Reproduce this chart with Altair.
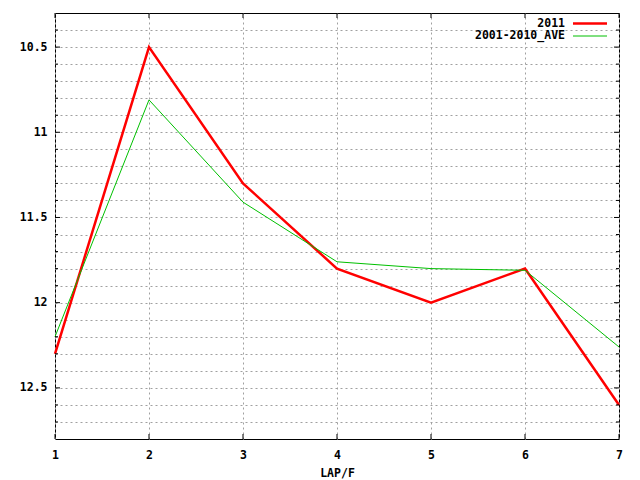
import altair as alt
import pandas as pd

laps = [1, 2, 3, 4, 5, 6, 7]
y2011 = [12.3, 10.5, 11.3, 11.8, 12.0, 11.8, 12.6]
yave = [12.2, 10.81, 11.41, 11.76, 11.80, 11.81, 12.26]
series_names = ["2011", "2001-2010_AVE"]
colors = ["#ff0000", "#00c000"]

W, H = 564, 426
FONT = "DejaVu Sans Mono"

df_red = pd.DataFrame({"lap": laps, "t": y2011, "s": series_names[0]})
df_green = pd.DataFrame({"lap": laps, "t": yave, "s": series_names[1]})

minor_vals = [round(10.4 + 0.1 * i, 1) for i in range(24)]
major_vals = [10.5, 11.0, 11.5, 12.0, 12.5]
yt = pd.DataFrame({"t": minor_vals,
                   "len": [5 if v in major_vals else 3 for v in minor_vals]})
xt = pd.DataFrame({"lap": laps})

xs = alt.Scale(domain=[1, 7], nice=False, zero=False)
ys = alt.Scale(domain=[10.3, 12.8], reverse=True, nice=False, zero=False)

grid = dict(grid=True, gridColor="#a0a0a0", gridDash=[2, 3], gridWidth=1)
lab = dict(labelFont=FONT, labelFontWeight="bold", labelFontSize=11.5,
           labelColor="black", ticks=False, domain=False, labelFlush=False)

xaxis = alt.Axis(values=laps, format="d", title="LAP/F",
                 titleFont=FONT, titleFontWeight="bold",
                 titleFontSize=11.5, titleColor="black",
                 titlePadding=7, labelPadding=10, **grid, **lab)
yaxis = alt.Axis(values=minor_vals, title=None, labelPadding=8,
                 labelExpr="abs(datum.value*2 - round(datum.value*2)) < 0.001 ? format(datum.value, '') : ''",
                 **grid, **lab)

xe = alt.X("lap:Q", scale=xs, axis=xaxis)
ye = alt.Y("t:Q", scale=ys, axis=yaxis)

red = alt.Chart(df_red).mark_line(color=colors[0], strokeWidth=2.5).encode(x=xe, y=ye)
green = alt.Chart(df_green).mark_line(color=colors[1], strokeWidth=1).encode(x=xe, y=ye)

lt_major = alt.Chart(yt[yt.len == 5]).mark_rule(color="black").encode(
    y=ye, x=alt.value(0), x2=alt.value(5))
lt_minor = alt.Chart(yt[yt.len == 3]).mark_rule(color="black").encode(
    y=ye, x=alt.value(0), x2=alt.value(3))
rt_major = alt.Chart(yt[yt.len == 5]).mark_rule(color="black").encode(
    y=ye, x=alt.value(W), x2=alt.value(W - 5))
rt_minor = alt.Chart(yt[yt.len == 3]).mark_rule(color="black").encode(
    y=ye, x=alt.value(W), x2=alt.value(W - 3))
bt = alt.Chart(xt).mark_rule(color="black").encode(
    x=xe, y=alt.value(H), y2=alt.value(H - 5))
tt = alt.Chart(xt).mark_rule(color="black").encode(
    x=xe, y=alt.value(0), y2=alt.value(5))

# legend (top right, text then line sample)
leg = pd.DataFrame({"s": series_names, "c": colors, "yy": [10.5, 23]})
leg_text = alt.Chart(leg).mark_text(align="right", baseline="middle", font=FONT,
                                    fontWeight="bold", fontSize=11.5, color="black").encode(
    text="s:N", x=alt.value(510), y=alt.Y("yy:Q", scale=None))
leg_red = alt.Chart(leg.iloc[[0]]).mark_rule(color=colors[0], strokeWidth=2.5).encode(
    x=alt.value(518), x2=alt.value(552), y=alt.Y("yy:Q", scale=None))
leg_green = alt.Chart(leg.iloc[[1]]).mark_rule(color=colors[1], strokeWidth=1).encode(
    x=alt.value(518), x2=alt.value(552), y=alt.Y("yy:Q", scale=None))

chart = alt.layer(red, green, lt_major, lt_minor, rt_major, rt_minor, bt, tt,
                  leg_text, leg_red, leg_green).properties(
    width=W, height=H,
    autosize=alt.AutoSizeParams(type="none"),
    padding={"left": 47, "top": 5, "right": 12, "bottom": 48},
    background="white",
).configure_view(stroke="black", strokeWidth=1)

chart.save("out.html", embed_options={"renderer": "svg", "actions": False})
